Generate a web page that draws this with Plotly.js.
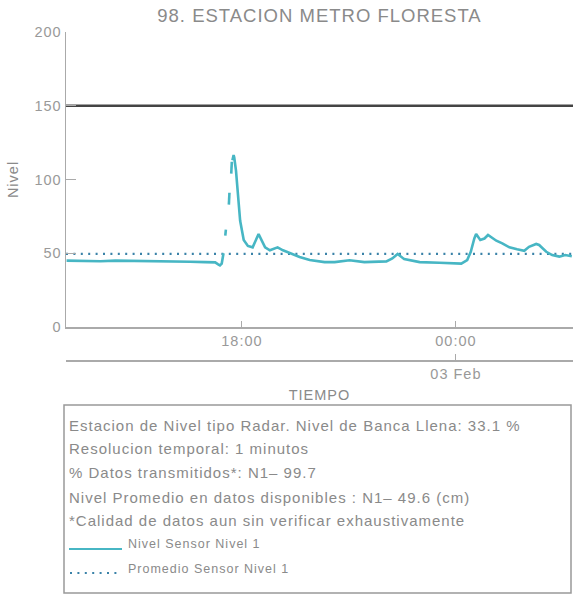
<!DOCTYPE html>
<html>
<head>
<meta charset="utf-8">
<script src="https://cdn.plot.ly/plotly-3.0.1.min.js"></script>
<style>
html,body{margin:0;padding:0;background:#fff;overflow:hidden}
text{letter-spacing:1px}
</style>
</head>
<body>
<div id="chart" style="width:573px;height:596px"></div>
<script>
// ---- data ----
const tiempo = [
  "2023-02-02 13:05","2023-02-02 13:28","2023-02-02 14:02","2023-02-02 14:27","2023-02-02 14:52",
  "2023-02-02 15:17","2023-02-02 15:42","2023-02-02 16:08","2023-02-02 16:33","2023-02-02 16:58",
  "2023-02-02 17:15","2023-02-02 17:20","2023-02-02 17:23","2023-02-02 17:26","2023-02-02 17:29",
  "2023-02-02 17:30",
  "2023-02-02 17:32","2023-02-02 17:33","2023-02-02 17:35",
  "2023-02-02 17:38","2023-02-02 17:39","2023-02-02 17:40",
  "2023-02-02 17:42","2023-02-02 17:43","2023-02-02 17:43:30",
  "2023-02-02 17:44","2023-02-02 17:45","2023-02-02 17:46","2023-02-02 17:47","2023-02-02 17:50",
  "2023-02-02 17:57","2023-02-02 18:03","2023-02-02 18:10","2023-02-02 18:18","2023-02-02 18:28",
  "2023-02-02 18:39","2023-02-02 18:47","2023-02-02 19:00","2023-02-02 19:09","2023-02-02 19:21",
  "2023-02-02 19:37","2023-02-02 19:54","2023-02-02 20:19","2023-02-02 20:36","2023-02-02 21:01",
  "2023-02-02 21:26","2023-02-02 22:03","2023-02-02 22:13","2023-02-02 22:22","2023-02-02 22:33",
  "2023-02-02 22:59","2023-02-02 23:32","2023-02-02 23:57","2023-02-03 00:09","2023-02-03 00:19",
  "2023-02-03 00:25","2023-02-03 00:31","2023-02-03 00:34","2023-02-03 00:41","2023-02-03 00:48",
  "2023-02-03 00:54","2023-02-03 01:08","2023-02-03 01:18","2023-02-03 01:30","2023-02-03 01:43",
  "2023-02-03 01:55","2023-02-03 02:03","2023-02-03 02:15","2023-02-03 02:20","2023-02-03 02:32",
  "2023-02-03 02:42","2023-02-03 02:54","2023-02-03 03:04","2023-02-03 03:15"
];
const nivelSensor1 = [
  45.0,44.8,44.6,45.0,44.9,
  44.5,44.8,44.3,44.2,44.0,
  43.8,42.5,41.8,43.0,50.0,
  null,
  62,66,null,
  83,91,null,
  104,112,null,
  113,116.5,116.5,115,106,
  72,59,55,54,63,
  54,52,54,52,50,
  47.5,45.4,44.0,44.0,45.2,
  44.0,44.5,46.5,49.5,46.0,
  44.0,43.6,43.2,43.0,45.4,
  51,60,63,59,60,
  62.4,58.5,56.7,54,52.7,
  51.7,54.4,56.3,55.6,51,
  48.8,47.7,48.8,48
];
const promedioNivel1 = 49.6;
const nivelBancaLlena = 150;
const rangoTiempo = ["2023-02-02 13:04","2023-02-03 03:17"];
const yTicks = [0, 50, 100, 150, 200];
const diaTick = ["2023-02-03 00:00"];
const diaTexto = ["03 Feb"];
const tituloGrafico = "98. ESTACION METRO FLORESTA";
const infoLineas = [
  "Estacion de Nivel tipo Radar. Nivel de Banca Llena: 33.1 %",
  "Resolucion temporal: 1 minutos",
  "% Datos transmitidos*: N1\u2013 99.7",
  "Nivel Promedio en datos disponibles : N1\u2013 49.6 (cm)",
  "*Calidad de datos aun sin verificar exhaustivamente"
];
const leyendaNombres = ["Nivel Sensor Nivel 1", "Promedio Sensor Nivel 1"];

// ---- layout helpers (pixel -> paper) ----
const W = 573, H = 596, ML = 66, MR = 0, MT = 32, MB = 2;
const PW = W - ML - MR, PH = H - MT - MB;
const px = x => (x - ML) / PW;
const py = y => (H - MB - y) / PH;

const FONT = "Liberation Sans, Arial, sans-serif";
const TEAL = "#47b6c4";
const DOT = "#3a82a8";
const GREY = "#8a8a8a";

const traces = [
  {x: rangoTiempo, y: [nivelBancaLlena, nivelBancaLlena], mode: "lines",
   line: {color: "#444", width: 2.5}, hoverinfo: "skip", showlegend: false},
  {x: rangoTiempo, y: [promedioNivel1, promedioNivel1], mode: "lines",
   line: {color: DOT, width: 2.2, dash: "2px,5.4px"}, name: leyendaNombres[1], showlegend: false},
  {x: tiempo, y: nivelSensor1, mode: "lines", connectgaps: false,
   line: {color: TEAL, width: 2.6}, name: leyendaNombres[0], showlegend: false},
  {x: rangoTiempo, y: [null, null], xaxis: "x2", yaxis: "y", mode: "lines",
   showlegend: false, hoverinfo: "skip"}
];

const annotations = infoLineas.map((t, i) => ({
  text: t, xref: "paper", yref: "paper", x: px(67), y: py([425, 448, 472, 497, 520][i]),
  xanchor: "left", yanchor: "middle", showarrow: false,
  font: {family: FONT, size: 15, color: GREY}
}));
leyendaNombres.forEach((t, i) => annotations.push({
  text: t, xref: "paper", yref: "paper", x: px(126), y: py([544, 569][i]),
  xanchor: "left", yanchor: "middle", showarrow: false,
  font: {family: FONT, size: 12.5, color: GREY}
}));

const shapes = [
  {type: "rect", xref: "paper", yref: "paper", x0: px(64), x1: px(571), y0: py(593), y1: py(405),
   line: {color: "#999", width: 1.5}, fillcolor: "rgba(0,0,0,0)"},
  {type: "line", xref: "paper", yref: "paper", x0: px(69), x1: px(122), y0: py(549), y1: py(549),
   line: {color: TEAL, width: 2}},
  {type: "line", xref: "paper", yref: "paper", x0: px(70), x1: px(120), y0: py(573), y1: py(573),
   line: {color: DOT, width: 2, dash: "2px,5.4px"}}
];

const layout = {
  width: W, height: H,
  margin: {l: ML, r: MR, t: MT, b: MB},
  paper_bgcolor: "#fff", plot_bgcolor: "#fff",
  font: {family: FONT, color: GREY},
  title: {text: tituloGrafico, x: 0.5, xref: "paper", y: 1 - 16 / H, yref: "container",
          yanchor: "middle", font: {family: FONT, size: 18.5, color: GREY}},
  showlegend: false,
  xaxis: {type: "date", range: rangoTiempo, tickformat: "%H:%M", dtick: 6 * 3600 * 1000,
          tick0: "2023-02-02 00:00", ticks: "inside", ticklen: 6, tickcolor: "#aaa",
          showline: true, linecolor: "#aaa", linewidth: 1.5, showgrid: false, zeroline: false,
          tickfont: {family: FONT, size: 14.5, color: "#999"}, anchor: "y"},
  xaxis2: {type: "date", range: rangoTiempo, overlaying: "x", anchor: "free", position: py(360),
           side: "bottom", tickvals: diaTick, ticktext: diaTexto, ticks: "inside", ticklen: 6,
           tickcolor: "#aaa", showline: true, linecolor: "#aaa", linewidth: 1.5, showgrid: false,
           zeroline: false, tickfont: {family: FONT, size: 14.5, color: "#999"},
           title: {text: "TIEMPO", standoff: 9, font: {family: FONT, size: 14.5, color: GREY}}},
  yaxis: {range: [0, 200], domain: [py(327), 1], tickvals: yTicks, ticks: "inside", ticklen: 10,
          tickcolor: "#aaa", showline: true, linecolor: "#aaa", linewidth: 1.5, showgrid: false,
          zeroline: false, tickfont: {family: FONT, size: 14.5, color: "#999"},
          title: {text: "Nivel", standoff: 12, font: {family: FONT, size: 14.5, color: GREY}}},
  annotations: annotations,
  shapes: shapes
};

Plotly.newPlot("chart", traces, layout, {staticPlot: true, displayModeBar: false});
</script>
</body>
</html>
